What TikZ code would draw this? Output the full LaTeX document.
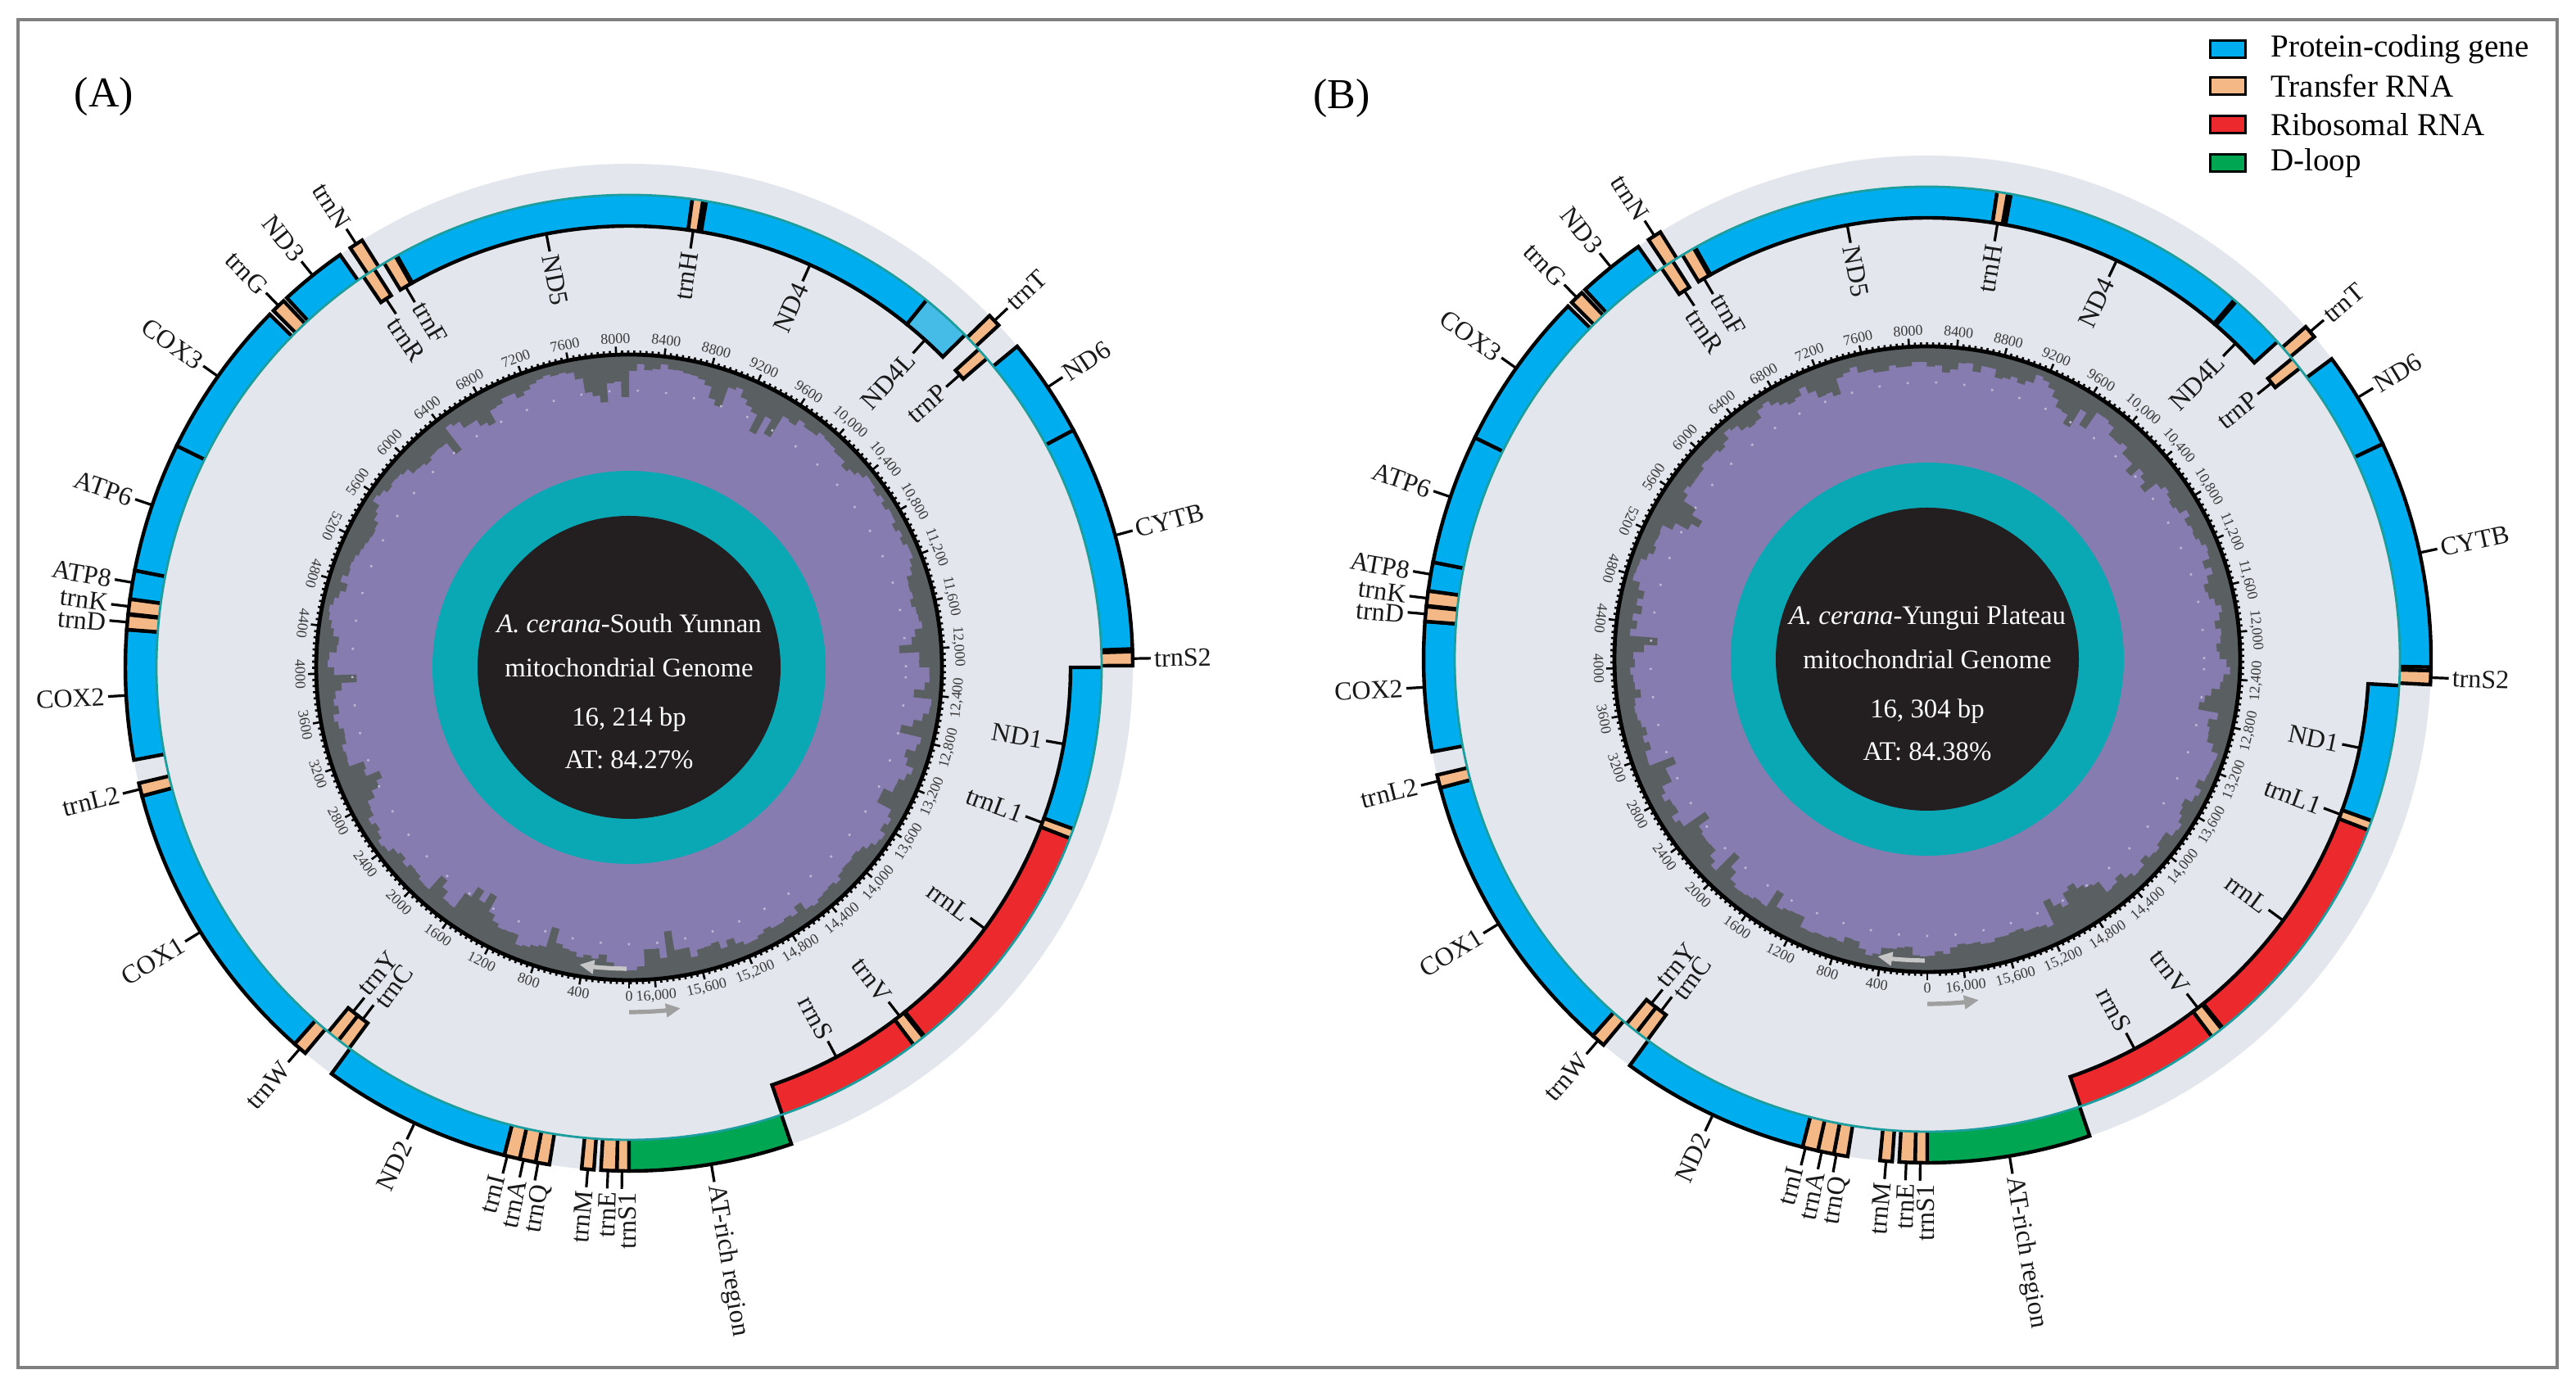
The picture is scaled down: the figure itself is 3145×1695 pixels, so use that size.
\documentclass[tikz,border=0pt]{standalone}
\usepackage{fontspec}
\setmainfont{Liberation Serif}
\usetikzlibrary{arrows.meta}
\definecolor{pcg}{HTML}{00AEEF}
\definecolor{pcgl}{HTML}{45BCE8}
\definecolor{trna}{HTML}{F4B887}
\definecolor{rrna}{HTML}{EC2A2E}
\definecolor{dloop}{HTML}{00A651}
\definecolor{disc}{HTML}{E3E6EC}
\definecolor{bbone}{HTML}{1C9E9E}
\definecolor{tealring}{HTML}{0AA8B4}
\definecolor{core}{HTML}{231F20}
\definecolor{purp}{HTML}{877CB0}
\definecolor{histo}{HTML}{5A6062}
\definecolor{framec}{HTML}{808080}
\definecolor{numc}{HTML}{3A3A3A}

\def\Rz{577}\def\Ro{615}\def\Ri{539}

% outer gene block
\newcommand\gout[3]{%
  \fill[#3] (#1:\Rz) arc[start angle=#1,end angle=#2,radius=\Rz] -- (#2:\Ro) arc[start angle=#2,end angle=#1,radius=\Ro] -- cycle;
  \draw[gedge] (#1:\Rz) -- (#1:\Ro) arc[start angle=#1,end angle=#2,radius=\Ro] -- (#2:\Rz);}
% inner gene block
\newcommand\gin[3]{%
  \fill[#3] (#1:\Rz) arc[start angle=#1,end angle=#2,radius=\Rz] -- (#2:\Ri) arc[start angle=#2,end angle=#1,radius=\Ri] -- cycle;
  \draw[gedge] (#1:\Rz) -- (#1:\Ri) arc[start angle=#1,end angle=#2,radius=\Ri] -- (#2:\Rz);}
% gene label: #1 name, #2 tick angle, #3 text angle, #4 side o/i, #5 text
\newcommand\glab[5]{%
  \pgfmathsetmacro\gT{#2}%
  \pgfmathsetmacro\gA{#3}%
  \def\gL{0}%
  \ifdim\gA pt>90pt \ifdim\gA pt<270pt \def\gL{1}\fi\fi
  \if#4o
    \coordinate (#1s) at (\gT:\Ro); \coordinate (#1e) at (\gT:637);
    \ifnum\gL=1 \node[glabel,anchor=east,rotate=\gA-180] (#1) at (\gA:641) {#5};
    \else \node[glabel,anchor=west,rotate=\gA] (#1) at (\gA:641) {#5};\fi
  \else
    \coordinate (#1s) at (\gT:\Ri); \coordinate (#1e) at (\gT:517);
    \ifnum\gL=1 \node[glabel,anchor=west,rotate=\gA-180] (#1) at (\gA:513) {#5};
    \else \node[glabel,anchor=east,rotate=\gA] (#1) at (\gA:513) {#5};\fi
  \fi
  \draw[tickl] (#1s) -- (#1e);}
% base of a map: #1 genome length, #2 seed, #3 degrees per 50 bp, #4 prefix
\newcommand\mapbase[4]{%
  \fill[disc] (0,0) circle[radius=\Ro];
  \fill[purp] (0,0) circle[radius=381];
  \pgfmathsetseed{#2}%
  \xdef\dprev{20}%
  \foreach \i in {0,...,239}{%
    \pgfmathsetmacro\aa{\i*1.5}%
    \pgfmathsetmacro\bb{\aa+1.6}%
    \pgfmathsetmacro\jmp{rnd<0.06 ? 26 : 0}%
    \pgfmathsetmacro\dn{max(8,min(62,\dprev+0.45*(19-\dprev)+(rnd-0.5)*16+\jmp))}%
    \xdef\dprev{\dn}%
    \pgfmathsetmacro\rr{381-\dn}%
    \fill[histo] (\aa:381) arc[start angle=\aa,end angle=\bb,radius=381] -- (\bb:\rr) arc[start angle=\bb,end angle=\aa,radius=\rr] -- cycle;
  }
  \draw[purp!55!white,line width=1.3pt,dash pattern=on 1.3pt off 16pt] (0,0) circle[radius=338];
  \fill[tealring] (0,0) circle[radius=240];
  \fill[core] (0,0) circle[radius=185];
  \draw[black,line width=2.4pt] (0,0) circle[radius=382];
  \foreach \k in {0,...,324}{%
    \pgfmathsetmacro\tt{270-\k*#3}%
    \pgfmathtruncatemacro\km{mod(\k,8)}%
    \ifnum\km=0 \draw[black,line width=1.3pt] (\tt:382) -- (\tt:392);
    \else \draw[black,line width=1.3pt] (\tt:382) -- (\tt:387);\fi
  }
  \foreach \p/\t in {0/0,400/400,800/800,1200/1200,1600/1600,2000/2000,2400/2400,2800/2800,3200/3200,3600/3600,4000/4000,4400/4400,4800/4800,5200/5200,5600/5600,6000/6000,6400/6400,6800/6800,7200/7200,7600/7600,8000/8000,8400/8400,8800/8800,9200/9200,9600/9600,10000/{10,000},10400/{10,400},10800/{10,800},11200/{11,200},11600/{11,600},12000/{12,000},12400/{12,400},12800/{12,800},13200/{13,200},13600/{13,600},14000/{14,000},14400/{14,400},14800/{14,800},15200/{15,200},15600/{15,600},16000/{16,000}}{%
    \pgfmathsetmacro\th{270-360*(\p/#1)}%
    \def\up{0}%
    \ifdim\th pt>0pt \ifdim\th pt<150pt \def\up{1}\fi\fi
    \ifnum\up=1 \node[numl,rotate=\th-90,anchor=south] (#4n\p) at (\th:395) {\t};
    \else \node[numl,rotate=\th+90,anchor=north] (#4n\p) at (\th:395) {\t};\fi
  }
  \draw[gray!75,line width=2.6pt,-{Triangle[length=9pt,width=8pt]}] (270:421) arc[start angle=270,end angle=278.6,radius=421];
  \draw[gray!45,line width=2.6pt,-{Triangle[length=9pt,width=8pt]}] (269.5:368) arc[start angle=269.5,end angle=260.5,radius=368];
}

\begin{document}
\begin{tikzpicture}[x=0.5pt,y=0.5pt,
  gedge/.style={black,line width=2.2pt,line join=miter},
  tickl/.style={black,line width=1.6pt},
  glabel/.style={inner sep=0pt,font=\fontsize{16}{18}\selectfont,text=black!90},
  numl/.style={inner sep=0pt,font=\fontsize{9}{10}\selectfont,text=numc},
  ctext/.style={text=white,font=\fontsize{16.4}{19}\selectfont,anchor=base,inner sep=0pt},
  legbox/.style={draw=black,line width=1.5pt},
  legtext/.style={anchor=west,inner sep=0pt,font=\fontsize{19.5}{22}\selectfont},
  panel/.style={inner sep=0pt,font=\fontsize{26}{30}\selectfont}]
\useasboundingbox (0,0) rectangle (3145,1695);
\fill[white] (0,0) rectangle (3145,1695);
\draw[framec,line width=1.8pt] (22,25) rectangle (3122,1671);

\node[panel] (pA) at (127,1577) {(A)};
\node[panel] (pB) at (1638,1575) {(B)};

% legend
\fill[pcg] (2698,1624) rectangle (2741,1645); \draw[legbox] (2698,1624) rectangle (2741,1645);
\fill[trna] (2698,1579) rectangle (2741,1600); \draw[legbox] (2698,1579) rectangle (2741,1600);
\fill[rrna] (2698,1532) rectangle (2741,1553); \draw[legbox] (2698,1532) rectangle (2741,1553);
\fill[dloop] (2698,1485) rectangle (2741,1506); \draw[legbox] (2698,1485) rectangle (2741,1506);
\node[legtext] (l1) at (2772,1635) {Protein-coding gene};
\node[legtext] (l2) at (2772,1590) {Transfer RNA};
\node[legtext] (l3) at (2772,1543) {Ribosomal RNA};
\node[legtext] (l4) at (2772,1496) {D-loop};

% ================= map A =================
\begin{scope}[shift={(768,880)}]
\mapbase{16214}{11}{1.110152}{a}
\node[ctext] (actr1) at (0,42) {\textit{A. cerana}-South Yunnan};
\node[ctext] (actr2) at (0,-12) {mitochondrial Genome};
\node[ctext] (actr3) at (0,-72) {16, 214 bp};
\node[ctext] (actr4) at (0,-124) {AT: 84.27\%};
% outer genes
\gout{268.6}{270}{trna}
\gout{266.8}{268.6}{trna}
\gout{264.6}{266.0}{trna}
\gout{259.3}{260.9}{trna}
\gout{257.45}{259.3}{trna}
\gout{255.65}{257.45}{trna}
\gout{233.8}{255.65}{pcg}
\gout{228.4}{230.0}{trna}
\gout{194.8}{228.4}{pcg}
\gout{193.3}{194.8}{trna}
\gout{175.7}{190.6}{pcg}
\gout{174.0}{175.7}{trna}
\gout{172.2}{173.9}{trna}
\gout{168.9}{172.2}{pcg}
\gout{153.9}{168.9}{pcg}
\gout{135.5}{153.9}{pcg}
\gout{133.3}{134.9}{trna}
\gout{125.0}{132.8}{pcg}
\gout{122.0}{123.6}{trna}
\gout{42.8}{44.3}{trna}
\gout{28.1}{39.6}{pcg}
\gout{2.1}{28.1}{pcg}
\gout{0.2}{1.8}{trna}
\gout{-90}{-71.2}{dloop}
% inner genes
\gin{230.5}{232.1}{trna}
\gin{232.1}{233.7}{trna}
\gin{122.6}{124.2}{trna}
\gin{119.6}{121.2}{trna}
\gin{82.3}{119.4}{pcg}
\gin{81.0}{82.3}{trna}
\gin{51.0}{80.6}{pcg}
\gin{44.7}{51.0}{pcgl}
\gin{40.8}{42.3}{trna}
\gin{-20.0}{0}{pcg}
\gin{-21.2}{-20.0}{trna}
\gin{-51.3}{-21.2}{rrna}
\gin{-53.0}{-51.5}{trna}
\gin{-71.1}{-53.0}{rrna}
\draw[bbone,line width=1.4pt] (0,0) circle[radius=\Rz];
% labels
\glab{aS1}{269.2}{269.85}{o}{trnS1}
\glab{aE}{267.6}{267.7}{o}{trnE}
\glab{aM}{265.3}{265.1}{o}{trnM}
\glab{aQ}{259.6}{260.4}{o}{trnQ}
\glab{aA}{257.9}{257.9}{o}{trnA}
\glab{aI}{256.0}{255.5}{o}{trnI}
\glab{aND2}{244.8}{244.8}{o}{ND2}
\glab{aW}{229.2}{229.2}{o}{trnW}
\glab{aCOX1}{211.7}{211.7}{o}{COX1}
\glab{aL2}{194.0}{194.0}{o}{trnL2}
\glab{aCOX2}{183.2}{183.2}{o}{COX2}
\glab{aD}{174.85}{175.1}{o}{trnD}
\glab{aK}{173.05}{172.9}{o}{trnK}
\glab{aATP8}{170.3}{170.3}{o}{ATP8}
\glab{aATP6}{161.2}{161.2}{o}{ATP6}
\glab{aCOX3}{144.7}{144.7}{o}{COX3}
\glab{aG}{134.1}{134.1}{o}{trnG}
\glab{aND3}{128.9}{128.9}{o}{ND3}
\glab{aN}{122.8}{122.8}{o}{trnN}
\glab{aT}{43.5}{43.5}{o}{trnT}
\glab{aND6}{33.8}{33.8}{o}{ND6}
\glab{aCYTB}{15.2}{15.2}{o}{CYTB}
\glab{aS2}{1.0}{1.0}{o}{trnS2}
\glab{aAT}{-80.6}{-80.6}{o}{AT-rich region}
\glab{aY}{231.3}{230.6}{i}{trnY}
\glab{aC}{232.9}{233.6}{i}{trnC}
\glab{aR}{123.4}{124.2}{i}{trnR}
\glab{aF}{120.4}{120.0}{i}{trnF}
\glab{aND5}{100.8}{100.8}{i}{ND5}
\glab{aH}{81.65}{81.65}{i}{trnH}
\glab{aND4}{65.8}{65.8}{i}{ND4}
\glab{aND4L}{47.9}{47.9}{i}{ND4L}
\glab{aP}{41.5}{41.5}{i}{trnP}
\glab{aND1}{-10}{-10}{i}{ND1}
\glab{aL1}{-20.6}{-20.6}{i}{trnL1}
\glab{arrnL}{-36.3}{-36.3}{i}{rrnL}
\glab{aV}{-52.2}{-52.2}{i}{trnV}
\glab{arrnS}{-62}{-62}{i}{rrnS}
\end{scope}

% ================= map B =================
\begin{scope}[shift={(2353,890)}]
\mapbase{16304}{29}{1.104024}{b}
\node[ctext] (bctr1) at (0,42) {\textit{A. cerana}-Yungui Plateau};
\node[ctext] (bctr2) at (0,-12) {mitochondrial Genome};
\node[ctext] (bctr3) at (0,-72) {16, 304 bp};
\node[ctext] (bctr4) at (0,-124) {AT: 84.38\%};
\gout{268.6}{270}{trna}
\gout{266.8}{268.6}{trna}
\gout{264.6}{266.0}{trna}
\gout{259.3}{260.9}{trna}
\gout{257.45}{259.3}{trna}
\gout{255.65}{257.45}{trna}
\gout{233.8}{255.65}{pcg}
\gout{228.4}{230.0}{trna}
\gout{194.8}{228.4}{pcg}
\gout{193.3}{194.8}{trna}
\gout{175.7}{190.6}{pcg}
\gout{174.0}{175.7}{trna}
\gout{172.2}{173.9}{trna}
\gout{168.9}{172.2}{pcg}
\gout{153.9}{168.9}{pcg}
\gout{135.5}{153.9}{pcg}
\gout{133.3}{134.9}{trna}
\gout{125.0}{132.8}{pcg}
\gout{122.0}{123.6}{trna}
\gout{39.8}{41.3}{trna}
\gout{25.3}{36.6}{pcg}
\gout{-0.9}{25.3}{pcg}
\gout{-2.9}{-1.3}{trna}
\gout{-90}{-71.2}{dloop}
\gin{230.5}{232.1}{trna}
\gin{232.1}{233.7}{trna}
\gin{122.6}{124.2}{trna}
\gin{119.6}{121.2}{trna}
\gin{81.5}{119.4}{pcg}
\gin{80.2}{81.5}{trna}
\gin{49.5}{79.8}{pcg}
\gin{42.2}{49.2}{pcg}
\gin{38.0}{39.5}{trna}
\gin{-20.0}{-3.2}{pcg}
\gin{-21.2}{-20.0}{trna}
\gin{-51.3}{-21.2}{rrna}
\gin{-53.0}{-51.5}{trna}
\gin{-71.1}{-53.0}{rrna}
\draw[bbone,line width=1.4pt] (0,0) circle[radius=\Rz];
\glab{bS1}{269.2}{269.85}{o}{trnS1}
\glab{bE}{267.6}{267.7}{o}{trnE}
\glab{bM}{265.3}{265.1}{o}{trnM}
\glab{bQ}{259.6}{260.4}{o}{trnQ}
\glab{bA}{257.9}{257.9}{o}{trnA}
\glab{bI}{256.0}{255.5}{o}{trnI}
\glab{bND2}{244.8}{244.8}{o}{ND2}
\glab{bW}{229.2}{229.2}{o}{trnW}
\glab{bCOX1}{211.7}{211.7}{o}{COX1}
\glab{bL2}{194.0}{194.0}{o}{trnL2}
\glab{bCOX2}{183.2}{183.2}{o}{COX2}
\glab{bD}{174.85}{175.1}{o}{trnD}
\glab{bK}{173.05}{172.9}{o}{trnK}
\glab{bATP8}{170.3}{170.3}{o}{ATP8}
\glab{bATP6}{161.2}{161.2}{o}{ATP6}
\glab{bCOX3}{144.7}{144.7}{o}{COX3}
\glab{bG}{134.1}{134.1}{o}{trnG}
\glab{bND3}{128.9}{128.9}{o}{ND3}
\glab{bN}{122.8}{122.8}{o}{trnN}
\glab{bT}{40.55}{40.55}{o}{trnT}
\glab{bND6}{31.3}{31.3}{o}{ND6}
\glab{bCYTB}{12.2}{12.2}{o}{CYTB}
\glab{bS2}{-2.1}{-2.1}{o}{trnS2}
\glab{bAT}{-80.6}{-80.6}{o}{AT-rich region}
\glab{bY}{231.3}{230.6}{i}{trnY}
\glab{bC}{232.9}{233.6}{i}{trnC}
\glab{bR}{123.4}{124.2}{i}{trnR}
\glab{bF}{120.4}{120.0}{i}{trnF}
\glab{bND5}{100.45}{100.45}{i}{ND5}
\glab{bH}{80.85}{80.85}{i}{trnH}
\glab{bND4}{64.6}{64.6}{i}{ND4}
\glab{bND4L}{45.7}{45.7}{i}{ND4L}
\glab{bP}{38.75}{38.75}{i}{trnP}
\glab{bND1}{-11.6}{-11.6}{i}{ND1}
\glab{bL1}{-20.6}{-20.6}{i}{trnL1}
\glab{brrnL}{-36.3}{-36.3}{i}{rrnL}
\glab{bV}{-52.2}{-52.2}{i}{trnV}
\glab{brrnS}{-62}{-62}{i}{rrnS}
\end{scope}
\end{tikzpicture}
\end{document}
